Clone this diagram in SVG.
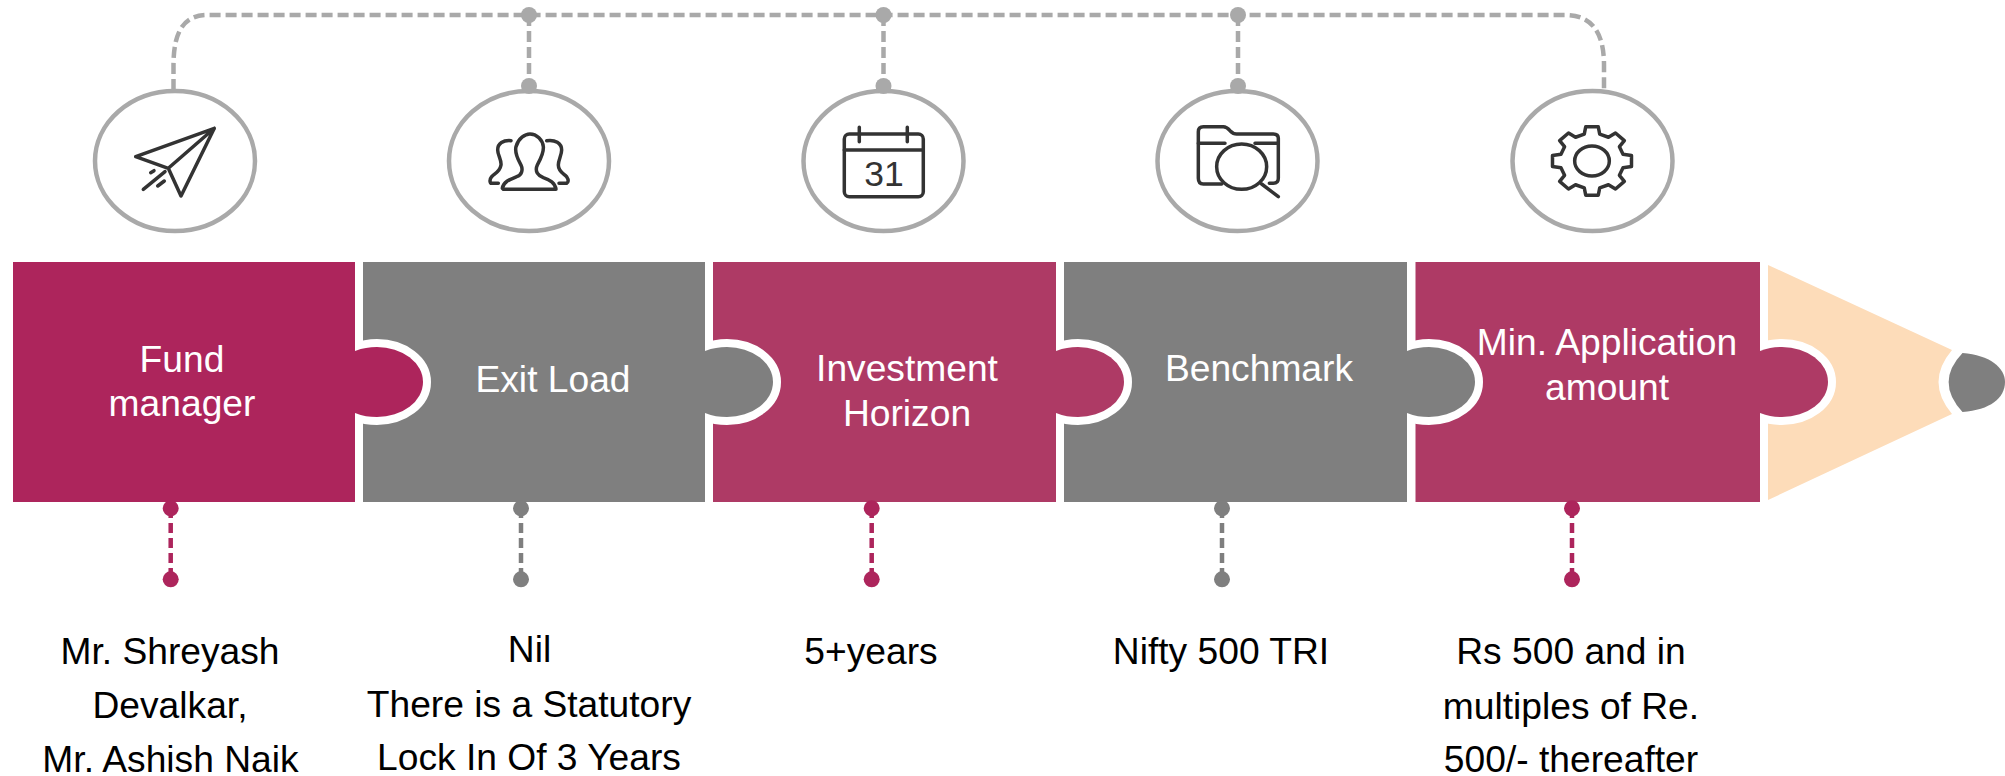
<svg xmlns="http://www.w3.org/2000/svg" width="2005" height="776" viewBox="0 0 2005 776">
<style>
text{font-family:"Liberation Sans",Arial,sans-serif;font-size:37.2px;text-anchor:middle}
.w{fill:#fff}.k{fill:#000}
.ring{fill:#fff;stroke:#a9a9a9;stroke-width:4.5}
.ico{fill:none;stroke:#333;stroke-width:3.5;stroke-linecap:round;stroke-linejoin:round}
.ico3{fill:none;stroke:#333;stroke-width:10.5;stroke-linecap:round;stroke-linejoin:round}
.tab{stroke:#fff;stroke-width:16;paint-order:stroke}
.m1{fill:#ad255c}.m2{fill:#ae3a65}.g{fill:#7f7f7f}
.dt{fill:none;stroke:#a9a9a9;stroke-width:4.5;stroke-dasharray:11 5}
.dg{fill:none;stroke:#7f7f7f;stroke-width:4.5;stroke-dasharray:10 5}
.dm{fill:none;stroke:#ad255c;stroke-width:4.5;stroke-dasharray:10 5}
.pa{fill:#a9a9a9}
</style>
<defs>
<path id="tab" d="M0,351 C8,348 14,347 22,347 A46,35 0 0 1 22,417 C14,417 8,416 0,413 Z"/>
</defs>
<g id="pencil-tip">
<path fill="#fddcb9" d="M1768,265 L1952,350 Q1925,382 1952,414 L1768,500 Z"/>
<path class="g" d="M1962.5,353 C1990,355 2005,368 2005,382 C2005,398 1990,410 1962.5,412 Q1934.7,382 1962.5,353 Z"/>
</g>
<g id="node-application">
<use href="#tab" x="1760" class="tab m2"/>
<rect class="m2" x="1415.5" y="262" width="344.5" height="240"/>
<text class="w" x="1607" y="355">Min. Application</text>
<text class="w" x="1607" y="400">amount</text>
<text class="k" x="1571" y="664">Rs 500 and in</text>
<text class="k" x="1571" y="719">multiples of Re.</text>
<text class="k" x="1571" y="771.5">500/- thereafter</text>
<ellipse class="ring" cx="1592.5" cy="161" rx="80" ry="70"/>
<g class="ico3" transform="translate(1540 110) scale(.3333)">
<polygon points="249.1,132.9 274.5,136.7 274.5,169.3 249.1,173.1 238.3,195.9 253.1,214.1 226.5,237.1 205.4,224.3 179.2,233.7 174.8,255.7 137.2,255.7 132.8,233.7 106.6,224.3 85.5,237.1 58.9,214.1 73.7,195.9 62.9,173.1 37.5,169.3 37.5,136.7 62.9,132.9 73.7,110.1 58.9,91.9 85.5,68.9 106.6,81.7 132.8,72.3 137.2,50.3 174.8,50.3 179.2,72.3 205.4,81.7 226.5,68.9 253.1,91.9 238.3,110.1"/>
<ellipse cx="156" cy="153" rx="52" ry="45"/>
</g>
</g>
<g id="node-benchmark">
<use href="#tab" x="1407" class="tab g"/>
<rect class="g" x="1064" y="262" width="343" height="240"/>
<text class="w" x="1259" y="381">Benchmark</text>
<text class="k" x="1221" y="664">Nifty 500 TRI</text>
<ellipse class="ring" cx="1237.5" cy="161" rx="80" ry="70"/>
<g class="ico3" transform="translate(1180 110) scale(.3333)">
<path d="M125,222 H70 Q55,222 55,205 V65 Q55,50 70,50 H130 Q140,50 150,62 Q160,72 170,72 H280 Q295,72 295,85 V205 Q295,220 280,220 H268"/>
<path d="M55,100 H135 M225,100 H295"/>
<ellipse cx="185" cy="170" rx="75" ry="68"/>
<path d="M245,222 L295,260"/>
</g>
</g>
<g id="node-horizon">
<use href="#tab" x="1056" class="tab m2"/>
<rect class="m2" x="713" y="262" width="343" height="240"/>
<text class="w" x="907" y="381">Investment</text>
<text class="w" x="907" y="426">Horizon</text>
<text class="k" x="871" y="664">5+years</text>
<ellipse class="ring" cx="883.5" cy="161" rx="80" ry="70"/>
<g class="ico">
<rect x="844.3" y="134" width="79" height="62.7" rx="5"/>
<path d="M844.3,150 H923.3 M859.3,127.3 V141.7 M907.3,127.3 V141.7"/>
</g>
<text x="884" y="186" fill="#333" style="font-size:35.5px">31</text>
</g>
<g id="node-exit-load">
<use href="#tab" x="705" class="tab g"/>
<rect class="g" x="363" y="262" width="342" height="240"/>
<text class="w" x="553" y="392">Exit Load</text>
<text class="k" x="529.5" y="662">Nil</text>
<text class="k" x="529" y="717">There is a Statutory</text>
<text class="k" x="529" y="770">Lock In Of 3 Years</text>
<ellipse class="ring" cx="529" cy="161" rx="80" ry="70"/>
<g class="ico3" transform="translate(475 110) scale(.3333)">
<path d="M85,238 H243 C240,218 225,210 205,203 C190,197 178,185 187,165 C195,150 207,130 205,110 C203,90 185,72 165,72 C150,72 130,85 123,110 C118,130 130,150 138,165 C145,180 140,195 125,200 C105,208 85,215 82,235 Z"/>
<path d="M108,92 C85,90 68,100 68,120 C68,135 80,150 78,165 C75,185 60,190 50,200 C42,210 45,220 50,220 H70"/>
<path d="M215,92 C240,88 260,100 260,120 C260,135 250,150 250,165 C250,185 265,190 275,200 C282,210 280,218 275,220 H252"/>
</g>
</g>
<g id="node-fund-manager">
<use href="#tab" x="355" class="tab m1"/>
<rect class="m1" x="13" y="262" width="342" height="240"/>
<text class="w" x="182" y="372">Fund</text>
<text class="w" x="182" y="416">manager</text>
<text class="k" x="170" y="664">Mr. Shreyash</text>
<text class="k" x="170" y="718">Devalkar,</text>
<text class="k" x="170.5" y="771.5">Mr. Ashish Naik</text>
<ellipse class="ring" cx="175" cy="161" rx="80" ry="70"/>
<path class="ico" d="M214.3,128.3 L135.7,156.7 L168.3,168.3 L214.3,128.3 L181,196 L168.3,168.3 M143.3,189.3 L165,171.7 M150.7,172.7 L154,170.7 M157.7,186 L164.3,181"/>
</g>
<g id="connectors">
<path class="dt" d="M173.5,90 V65 C173.5,30 185,15 207,15 H1565 C1590,15 1604,30 1604,65 V90"/>
<path class="dt" d="M529,15 V86 M883.5,15 V86 M1238,15 V86"/>
<g class="pa">
<circle cx="529" cy="15" r="8"/><circle cx="883.5" cy="15" r="8"/><circle cx="1238" cy="15" r="8"/>
<circle cx="529" cy="86" r="8"/><circle cx="883.5" cy="86" r="8"/><circle cx="1238" cy="86" r="8"/>
</g>
<path class="dm" d="M170.7,508 V579 M871.7,508 V579 M1572,508 V579"/>
<path class="dg" d="M521,508 V579 M1222,508 V579"/>
<g class="m1">
<circle cx="170.7" cy="508.3" r="8"/><circle cx="170.7" cy="579.3" r="8"/>
<circle cx="871.7" cy="508.3" r="8"/><circle cx="871.7" cy="579.3" r="8"/>
<circle cx="1572" cy="508.3" r="8"/><circle cx="1572" cy="579.3" r="8"/>
</g>
<g class="g">
<circle cx="521" cy="508.3" r="8"/><circle cx="521" cy="579.3" r="8"/>
<circle cx="1222" cy="508.3" r="8"/><circle cx="1222" cy="579.3" r="8"/>
</g>
</g>
</svg>
